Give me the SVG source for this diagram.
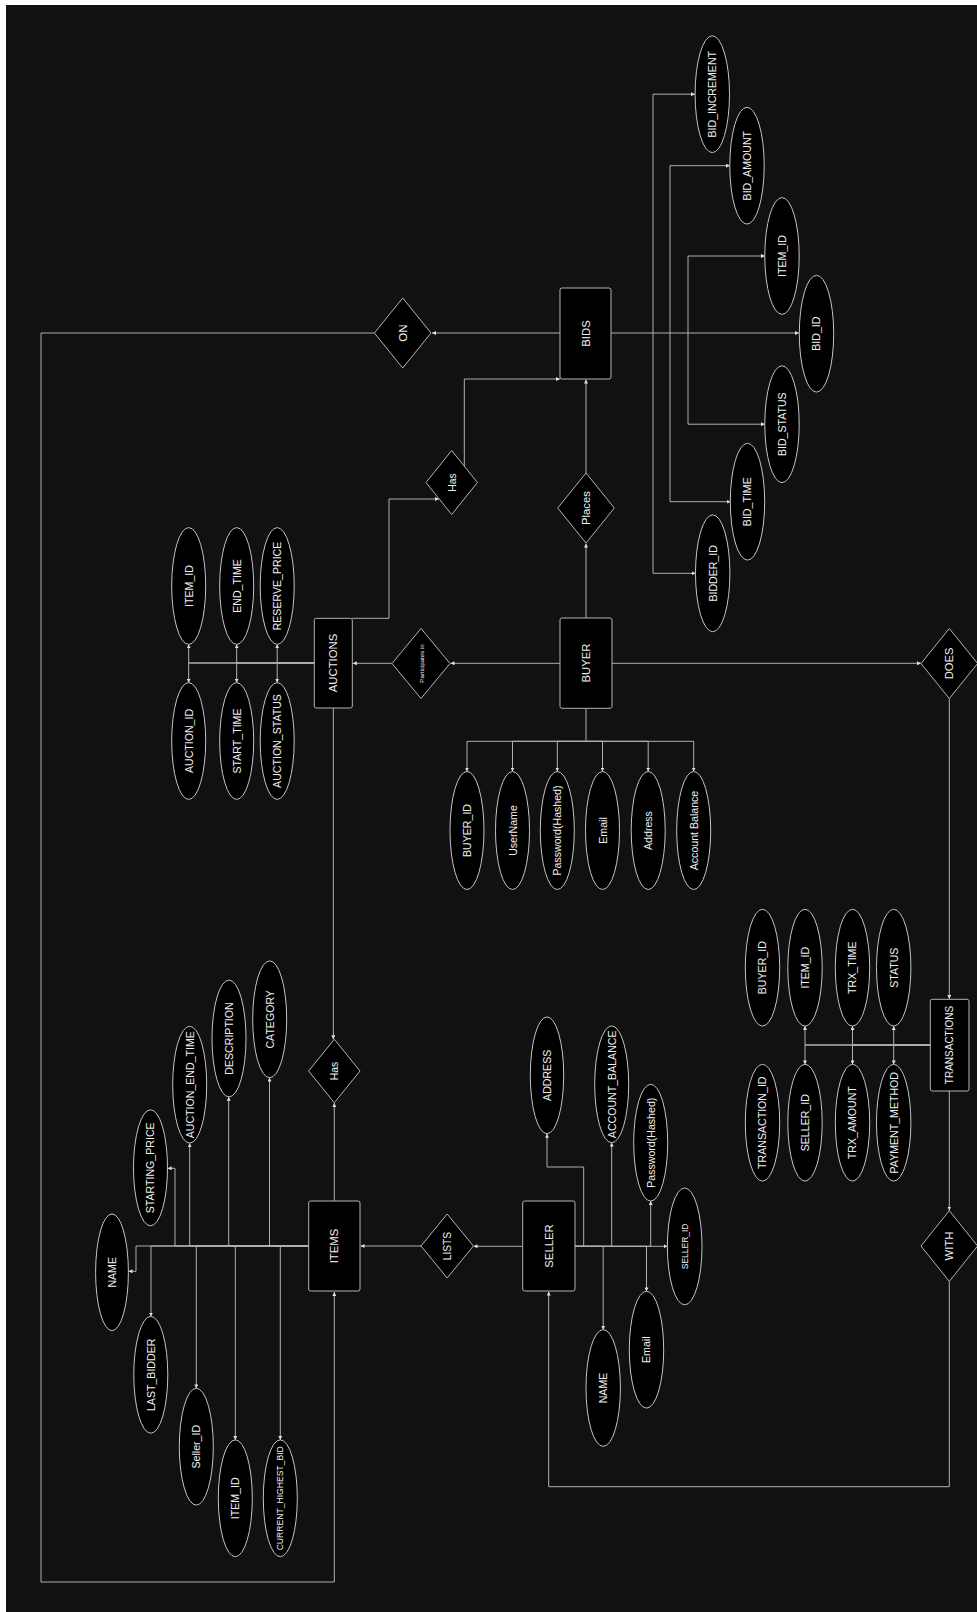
<svg xmlns="http://www.w3.org/2000/svg" width="977" height="1612" viewBox="0 0 977 1612">
<defs>
<marker id="ar" viewBox="0 0 6 6" refX="6" refY="3" markerWidth="4" markerHeight="4" markerUnits="userSpaceOnUse" orient="auto">
<path d="M0,0 L6,3 L0,6 Z" fill="#e0e0e0"/>
</marker>
</defs>
<style>
.bg{fill:#111111}
.ent{fill:#000;stroke:#b4b4b4;stroke-width:1}
.rel{fill:#000;stroke:#b4b4b4;stroke-width:1}
.att{fill:#000;stroke:#c4c4c4;stroke-width:1}
.c path{fill:none;stroke:#b0b0b0;stroke-width:1;marker-end:url(#ar)}
text{font-family:"Liberation Sans",Arial,sans-serif;fill:#f0f0f0;text-anchor:middle;dominant-baseline:central}
.t{font-size:10.6px}
.e{font-size:11.3px}
.r{font-size:11px}
</style>
<rect x="0" y="0" width="977" height="1612" fill="#ffffff"/>
<rect class="bg" x="6" y="5" width="971" height="1607"/>

<g id="connectors" class="c">
<path d="M560,333 H432"/>
<path d="M374,333 H41 V1582 H334.3 V1292"/>
<path d="M611,333 H799"/>
<path d="M653,333 V94.2 H695"/>
<path d="M670,333 V165.7 H730"/>
<path d="M688,333 V256 H765"/>
<path d="M653,333 V573.3 H695.7"/>
<path d="M670,333 V501.7 H730.5"/>
<path d="M688,333 V424.2 H765"/>
<path d="M464.3,466 V379 H560"/>
<path d="M352.3,618.3 H389 V499 H439"/>
<path d="M586,618 V543.5"/>
<path d="M586,473 V379.5"/>
<path d="M560,663.3 H450.5"/>
<path d="M392,663.3 H352.8"/>
<path d="M612,663.3 H921"/>
<path d="M949.3,698.3 V999"/>
<path d="M949.3,1091 V1210.5"/>
<path d="M949.3,1281.3 V1486.7 H548.7 V1291.5"/>
<path d="M314.3,663 H188.7 V644.3"/>
<path d="M314.3,663 H188.7 V682.7"/>
<path d="M314.3,663 H236.7 V644.3"/>
<path d="M314.3,663 H236.7 V682.7"/>
<path d="M314.3,663 H277.2 V644.3"/>
<path d="M314.3,663 H277.2 V682.7"/>
<path d="M333.3,708 V1039.3"/>
<path d="M334.3,1201 V1103"/>
<path d="M586,708.3 V741.3 H467 V771.5"/>
<path d="M586,741.3 H512.5 V771.5"/>
<path d="M586,741.3 H557.3 V771.5"/>
<path d="M586,741.3 H602.5 V771.5"/>
<path d="M586,741.3 H648.2 V771.5"/>
<path d="M586,741.3 H693.7 V771.5"/>
<path d="M522.7,1246.3 H473.5"/>
<path d="M421,1246 H360.5"/>
<path d="M308.7,1246 H136 V1271.3 H128.5"/>
<path d="M308.7,1246 H175 V1168.3 H167.7"/>
<path d="M308.7,1246 H189.7 V1143.3"/>
<path d="M308.7,1246 H228.7 V1096.8"/>
<path d="M308.7,1246 H269.5 V1077.6"/>
<path d="M308.7,1246 H151 V1316.5"/>
<path d="M308.7,1246 H196.3 V1388.4"/>
<path d="M308.7,1246 H235.3 V1440"/>
<path d="M308.7,1246 H280.3 V1440"/>
<path d="M575,1246.3 H667.5"/>
<path d="M575,1246.3 H583.7 V1167 H547 V1133.7"/>
<path d="M575,1246.3 H611.7 V1142.6"/>
<path d="M575,1246.3 H650.7 V1201"/>
<path d="M575,1246.3 H603.2 V1329.7"/>
<path d="M575,1246.3 H646.5 V1291.4"/>
<path d="M930.3,1045 H805 V1026"/>
<path d="M930.3,1045 H805 V1064.4"/>
<path d="M930.3,1045 H852.5 V1026"/>
<path d="M930.3,1045 H852.5 V1064.4"/>
<path d="M930.3,1045 H893.7 V1026"/>
<path d="M930.3,1045 H893.7 V1064.4"/>
</g>

<g id="BIDS"><rect class="ent" x="560" y="288" width="51" height="91" rx="2"/><text class="e" x="585.5" y="333.5" transform="rotate(-90 585.5 333.5)">BIDS</text></g>
<g id="AUCTIONS"><rect class="ent" x="314.3" y="618.3" width="38" height="89.7" rx="2"/><text class="e" x="333.3" y="663" transform="rotate(-90 333.3 663)">AUCTIONS</text></g>
<g id="BUYER"><rect class="ent" x="560" y="618" width="52" height="90.3" rx="2"/><text class="e" x="586" y="663" transform="rotate(-90 586 663)">BUYER</text></g>
<g id="ITEMS"><rect class="ent" x="308.7" y="1201" width="51.3" height="90" rx="2"/><text class="e" x="334.3" y="1246" transform="rotate(-90 334.3 1246)">ITEMS</text></g>
<g id="SELLER"><rect class="ent" x="522.7" y="1201" width="52.3" height="90" rx="2"/><text class="e" x="548.8" y="1246" transform="rotate(-90 548.8 1246)">SELLER</text></g>
<g id="TRANSACTIONS"><rect class="ent" x="930.3" y="999.3" width="38.7" height="91.7" rx="2"/><text class="e" style="font-size:10px" x="949.7" y="1045" transform="rotate(-90 949.7 1045)">TRANSACTIONS</text></g>

<g id="ON"><polygon class="rel" points="402.7,298 431,333 402.7,368 374.4,333"/><text class="r" style="font-size:11.5px" x="402.7" y="333" transform="rotate(-90 402.7 333)">ON</text></g>
<g id="HAS_BIDS"><polygon class="rel" points="451.7,450.5 477.4,482.5 451.7,514.5 426,482.5"/><text class="r" style="font-size:10.5px" x="451.7" y="482.5" transform="rotate(-90 451.7 482.5)">Has</text></g>
<g id="PLACES"><polygon class="rel" points="586,473 614.3,508 586,543 557.7,508"/><text class="r" style="font-size:11.3px" x="586" y="508" transform="rotate(-90 586 508)">Places</text></g>
<g id="PARTICIPATES"><polygon class="rel" points="421,628.5 450,663.5 421,698.5 392,663.5"/><text style="font-size:6.1px" x="421" y="663.5" transform="rotate(-90 421 663.5)">Participates in</text></g>
<g id="DOES"><polygon class="rel" points="949.3,628.5 977.6,663.5 949.3,698.5 921,663.5"/><text class="r" style="font-size:11.2px" x="949.3" y="663.5" transform="rotate(-90 949.3 663.5)">DOES</text></g>
<g id="HAS_ITEMS"><polygon class="rel" points="334.3,1039.3 360,1071 334.3,1102.7 308.6,1071"/><text class="r" style="font-size:10.5px" x="334.3" y="1071" transform="rotate(-90 334.3 1071)">Has</text></g>
<g id="LISTS"><polygon class="rel" points="447.2,1214 473.4,1246 447.2,1278 421,1246"/><text class="r" style="font-size:10.2px" x="447.2" y="1246" transform="rotate(-90 447.2 1246)">LISTS</text></g>
<g id="WITH"><polygon class="rel" points="949.3,1210.7 977.6,1246 949.3,1281.3 921,1246"/><text class="r" style="font-size:11.3px" x="949.3" y="1246" transform="rotate(-90 949.3 1246)">WITH</text></g>

<g id="BID_INCREMENT"><ellipse class="att" cx="712.3" cy="94.2" rx="17.2" ry="58.4"/><text class="t" x="712.3" y="94.2" transform="rotate(-90 712.3 94.2)">BID_INCREMENT</text></g>
<g id="BID_AMOUNT"><ellipse class="att" cx="747" cy="165.7" rx="17.2" ry="58.4"/><text class="t" x="747" y="165.7" transform="rotate(-90 747 165.7)">BID_AMOUNT</text></g>
<g id="BIDS_ITEM_ID"><ellipse class="att" cx="782" cy="256" rx="17.2" ry="58.4"/><text class="t" x="782" y="256" transform="rotate(-90 782 256)">ITEM_ID</text></g>
<g id="BID_ID"><ellipse class="att" cx="816.5" cy="333.7" rx="17.2" ry="58.4"/><text class="t" x="816.5" y="333.7" transform="rotate(-90 816.5 333.7)">BID_ID</text></g>
<g id="BID_STATUS"><ellipse class="att" cx="782" cy="424.2" rx="17.2" ry="58.4"/><text class="t" x="782" y="424.2" transform="rotate(-90 782 424.2)">BID_STATUS</text></g>
<g id="BID_TIME"><ellipse class="att" cx="747.5" cy="501.7" rx="17.2" ry="58.4"/><text class="t" x="747.5" y="501.7" transform="rotate(-90 747.5 501.7)">BID_TIME</text></g>
<g id="BIDDER_ID"><ellipse class="att" cx="712.7" cy="573.3" rx="17.2" ry="58.4"/><text class="t" x="712.7" y="573.3" transform="rotate(-90 712.7 573.3)">BIDDER_ID</text></g>

<g id="AUC_ITEM_ID"><ellipse class="att" cx="188.7" cy="586" rx="17" ry="58.4"/><text class="t" x="188.7" y="586" transform="rotate(-90 188.7 586)">ITEM_ID</text></g>
<g id="END_TIME"><ellipse class="att" cx="236.7" cy="586" rx="17" ry="58.4"/><text class="t" x="236.7" y="586" transform="rotate(-90 236.7 586)">END_TIME</text></g>
<g id="RESERVE_PRICE"><ellipse class="att" cx="277.2" cy="586" rx="17" ry="58.4"/><text class="t" x="277.2" y="586" transform="rotate(-90 277.2 586)">RESERVE_PRICE</text></g>
<g id="AUCTION_ID"><ellipse class="att" cx="188.7" cy="741" rx="17" ry="58.4"/><text class="t" x="188.7" y="741" transform="rotate(-90 188.7 741)">AUCTION_ID</text></g>
<g id="START_TIME"><ellipse class="att" cx="236.7" cy="741" rx="17" ry="58.4"/><text class="t" x="236.7" y="741" transform="rotate(-90 236.7 741)">START_TIME</text></g>
<g id="AUCTION_STATUS"><ellipse class="att" cx="277.2" cy="741" rx="17" ry="58.4"/><text class="t" x="277.2" y="741" transform="rotate(-90 277.2 741)">AUCTION_STATUS</text></g>

<g id="BUYER_ID"><ellipse class="att" cx="467" cy="830.5" rx="17" ry="59"/><text class="t" x="467" y="830.5" transform="rotate(-90 467 830.5)">BUYER_ID</text></g>
<g id="USERNAME"><ellipse class="att" cx="512.5" cy="830.5" rx="17" ry="59"/><text class="t" x="512.5" y="830.5" transform="rotate(-90 512.5 830.5)">UserName</text></g>
<g id="BUYER_PASSWORD"><ellipse class="att" cx="557.3" cy="830.5" rx="17" ry="59"/><text class="t" x="557.3" y="830.5" transform="rotate(-90 557.3 830.5)">Password(Hashed)</text></g>
<g id="BUYER_EMAIL"><ellipse class="att" cx="602.5" cy="830.5" rx="17" ry="59"/><text class="t" x="602.5" y="830.5" transform="rotate(-90 602.5 830.5)">Email</text></g>
<g id="BUYER_ADDRESS"><ellipse class="att" cx="648.2" cy="830.5" rx="17" ry="59"/><text class="t" x="648.2" y="830.5" transform="rotate(-90 648.2 830.5)">Address</text></g>
<g id="ACCOUNT_BAL"><ellipse class="att" cx="693.7" cy="830.5" rx="17" ry="59"/><text class="t" x="693.7" y="830.5" transform="rotate(-90 693.7 830.5)">Account Balance</text></g>

<g id="TRX_BUYER_ID"><ellipse class="att" cx="762.5" cy="967.7" rx="17.2" ry="58.4"/><text class="t" x="762.5" y="967.7" transform="rotate(-90 762.5 967.7)">BUYER_ID</text></g>
<g id="TRX_ITEM_ID"><ellipse class="att" cx="805" cy="967.7" rx="17.2" ry="58.4"/><text class="t" x="805" y="967.7" transform="rotate(-90 805 967.7)">ITEM_ID</text></g>
<g id="TRX_TIME"><ellipse class="att" cx="852.5" cy="967.7" rx="17.2" ry="58.4"/><text class="t" x="852.5" y="967.7" transform="rotate(-90 852.5 967.7)">TRX_TIME</text></g>
<g id="TRX_STATUS"><ellipse class="att" cx="893.7" cy="967.7" rx="17.2" ry="58.4"/><text class="t" x="893.7" y="967.7" transform="rotate(-90 893.7 967.7)">STATUS</text></g>
<g id="TRANSACTION_ID"><ellipse class="att" cx="762.5" cy="1122.7" rx="17.2" ry="58.4"/><text class="t" x="762.5" y="1122.7" transform="rotate(-90 762.5 1122.7)">TRANSACTION_ID</text></g>
<g id="TRX_SELLER_ID"><ellipse class="att" cx="805" cy="1122.7" rx="17.2" ry="58.4"/><text class="t" x="805" y="1122.7" transform="rotate(-90 805 1122.7)">SELLER_ID</text></g>
<g id="TRX_AMOUNT"><ellipse class="att" cx="852.5" cy="1122.7" rx="17.2" ry="58.4"/><text class="t" x="852.5" y="1122.7" transform="rotate(-90 852.5 1122.7)">TRX_AMOUNT</text></g>
<g id="PAYMENT_METHOD"><ellipse class="att" cx="893.7" cy="1122.7" rx="17.2" ry="58.4"/><text class="t" x="893.7" y="1122.7" transform="rotate(-90 893.7 1122.7)">PAYMENT_METHOD</text></g>

<g id="CATEGORY"><ellipse class="att" cx="269.7" cy="1019.3" rx="17" ry="58.4"/><text class="t" x="269.7" y="1019.3" transform="rotate(-90 269.7 1019.3)">CATEGORY</text></g>
<g id="DESCRIPTION"><ellipse class="att" cx="229" cy="1038.5" rx="17" ry="58.4"/><text class="t" x="229" y="1038.5" transform="rotate(-90 229 1038.5)">DESCRIPTION</text></g>
<g id="AUCTION_END_TIME"><ellipse class="att" cx="189.7" cy="1084.7" rx="17" ry="58.4"/><text class="t" x="189.7" y="1084.7" transform="rotate(-90 189.7 1084.7)">AUCTION_END_TIME</text></g>
<g id="STARTING_PRICE"><ellipse class="att" cx="150.5" cy="1167.8" rx="17" ry="58"/><text class="t" x="150.5" y="1167.8" transform="rotate(-90 150.5 1167.8)">STARTING_PRICE</text></g>
<g id="ITEM_NAME"><ellipse class="att" cx="112" cy="1272.3" rx="16.4" ry="58.4"/><text class="t" x="112" y="1272.3" transform="rotate(-90 112 1272.3)">NAME</text></g>
<g id="LAST_BIDDER"><ellipse class="att" cx="150.8" cy="1374.8" rx="17" ry="58.4"/><text class="t" x="150.8" y="1374.8" transform="rotate(-90 150.8 1374.8)">LAST_BIDDER</text></g>
<g id="ITEM_SELLER_ID"><ellipse class="att" cx="196.3" cy="1446.7" rx="17" ry="58.4"/><text class="t" x="196.3" y="1446.7" transform="rotate(-90 196.3 1446.7)">Seller_ID</text></g>
<g id="ITEMS_ITEM_ID"><ellipse class="att" cx="235.3" cy="1498.3" rx="17" ry="58.4"/><text class="t" x="235.3" y="1498.3" transform="rotate(-90 235.3 1498.3)">ITEM_ID</text></g>
<g id="CURRENT_HIGHEST_BID"><ellipse class="att" cx="280.3" cy="1498.3" rx="17" ry="58.4"/><text style="font-size:8.6px" x="280.3" y="1498.3" transform="rotate(-90 280.3 1498.3)">CURRENT_HIGHEST_BID</text></g>

<g id="SELLER_ADDRESS"><ellipse class="att" cx="547" cy="1075.3" rx="16.7" ry="58.4"/><text class="t" x="547" y="1075.3" transform="rotate(-90 547 1075.3)">ADDRESS</text></g>
<g id="SELLER_ACCOUNT_BALANCE"><ellipse class="att" cx="611.7" cy="1084.3" rx="17" ry="58.4"/><text class="t" x="611.7" y="1084.3" transform="rotate(-90 611.7 1084.3)">ACCOUNT_BALANCE</text></g>
<g id="SELLER_PASSWORD"><ellipse class="att" cx="650.7" cy="1142.7" rx="17" ry="58.4"/><text class="t" x="650.7" y="1142.7" transform="rotate(-90 650.7 1142.7)">Password(Hashed)</text></g>
<g id="SELLER_ID"><ellipse class="att" cx="684.7" cy="1246.4" rx="17.3" ry="58.4"/><text style="font-size:8.5px" x="684.7" y="1246.4" transform="rotate(-90 684.7 1246.4)">SELLER_ID</text></g>
<g id="SELLER_EMAIL"><ellipse class="att" cx="646.5" cy="1349.7" rx="17.2" ry="58.4"/><text class="t" x="646.5" y="1349.7" transform="rotate(-90 646.5 1349.7)">Email</text></g>
<g id="SELLER_NAME"><ellipse class="att" cx="603.2" cy="1388" rx="17.2" ry="58.4"/><text class="t" x="603.2" y="1388" transform="rotate(-90 603.2 1388)">NAME</text></g>
</svg>
